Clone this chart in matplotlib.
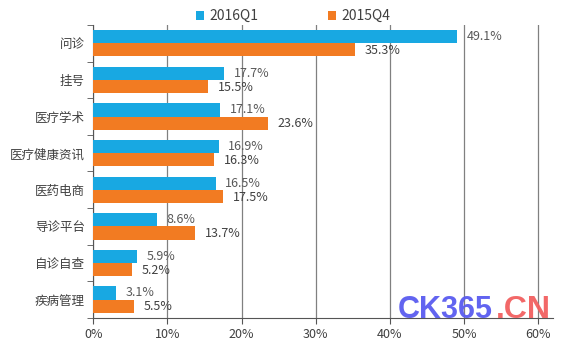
import matplotlib
matplotlib.use("Agg")
import matplotlib.pyplot as plt
import numpy as np

plt.rcParams['font.family'] = ['Noto Sans CJK SC', 'DejaVu Sans']

# data
categories = ["问诊", "挂号", "医疗学术", "医疗健康资讯", "医药电商", "导诊平台", "自诊自查", "疾病管理"]
q1_2016 = [49.1, 17.7, 17.1, 16.9, 16.5, 8.6, 5.9, 3.1]
q4_2015 = [35.3, 15.5, 23.6, 16.3, 17.5, 13.7, 5.2, 5.5]
series_names = ["2016Q1", "2015Q4"]
xticks = [0, 10, 20, 30, 40, 50, 60]

BLUE = "#18a8e2"
ORANGE = "#f27b22"
TXT = "#404040"
LBL = "#595959"

fig = plt.figure(figsize=(5.75, 3.47), dpi=100)
ax = fig.add_axes([0.162, 0.084, 0.80, 0.844])

n = len(categories)
y = np.arange(n)
h = 0.36
ax.barh(y - h / 2, q1_2016, height=h, color=BLUE, label=series_names[0], zorder=3)
ax.barh(y + h / 2, q4_2015, height=h, color=ORANGE, label=series_names[1], zorder=3)

for yi, v in zip(y, q1_2016):
    ax.text(v + 1.3, yi - h / 2, f"{v}%", va="center", ha="left", fontsize=9, color=LBL)
for yi, v in zip(y, q4_2015):
    ax.text(v + 1.3, yi + h / 2 + 0.02, f"{v}%", va="center", ha="left", fontsize=9, color=TXT)

ax.set_ylim(n - 0.5, -0.5)
ax.set_xlim(0, 62)
ax.set_yticks(y)
ax.set_yticklabels(categories, fontsize=9, color=TXT)
ax.set_yticks(np.arange(n + 1) - 0.5, minor=True)
ax.tick_params(axis="y", which="major", length=0, pad=6)
ax.tick_params(axis="y", which="minor", length=4, color="#555555", direction="out")

ax.set_xticks(xticks)
ax.set_xticklabels([f"{t}%" for t in xticks], fontsize=9, color=TXT)
ax.tick_params(axis="x", length=4, color="#555555", direction="out")
ax.xaxis.grid(True, color="#808080", linewidth=0.9, zorder=0)

for s in ["top", "right"]:
    ax.spines[s].set_visible(False)
ax.spines["left"].set_color("#555555")
ax.spines["bottom"].set_color("#555555")

leg = fig.legend(loc="upper center", bbox_to_anchor=(0.51, 1.01), ncol=2, frameon=False,
                 fontsize=10, handlelength=0.6, handleheight=0.6, columnspacing=5.0,
                 handletextpad=0.4)
for t in leg.get_texts():
    t.set_color(TXT)

# watermark
fig.text(0.692, 0.107, "CK365", fontsize=22, fontweight="bold", color="#5a5cf0",
         family="Liberation Sans", va="center", ha="left", alpha=0.95)
fig.text(0.862, 0.107, ".CN", fontsize=23, fontweight="bold", color="#f26060",
         family="Liberation Sans", va="center", ha="left", alpha=0.95)

fig.savefig("out.png", dpi=100)
